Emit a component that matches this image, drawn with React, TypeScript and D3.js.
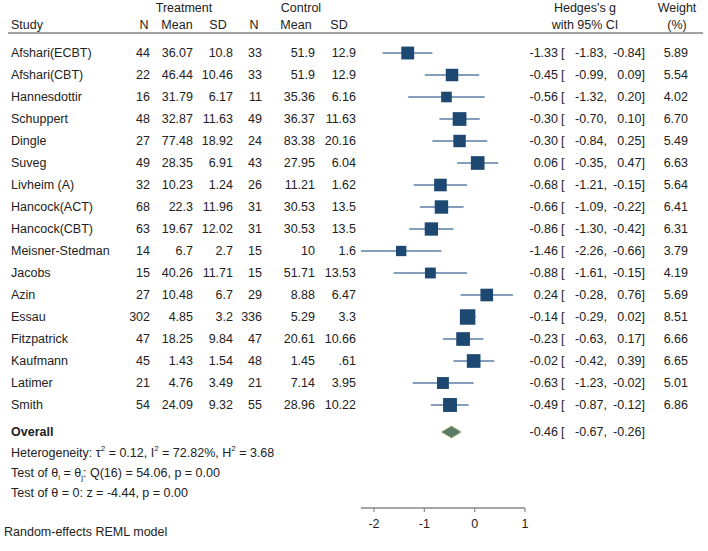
import React from "react";
import * as d3 from "d3";

const studies = ["Afshari(ECBT)", "Afshari(CBT)", "Hannesdottir", "Schuppert", "Dingle", "Suveg", "Livheim (A)", "Hancock(ACT)", "Hancock(CBT)", "Meisner-Stedman", "Jacobs", "Azin", "Essau", "Fitzpatrick", "Kaufmann", "Latimer", "Smith"];
const treatN = ["44", "22", "16", "48", "27", "49", "32", "68", "63", "14", "15", "27", "302", "47", "45", "21", "54"];
const treatMean = ["36.07", "46.44", "31.79", "32.87", "77.48", "28.35", "10.23", "22.3", "19.67", "6.7", "40.26", "10.48", "4.85", "18.25", "1.43", "4.76", "24.09"];
const treatSD = ["10.8", "10.46", "6.17", "11.63", "18.92", "6.91", "1.24", "11.96", "12.02", "2.7", "11.71", "6.7", "3.2", "9.84", "1.54", "3.49", "9.32"];
const ctrlN = ["33", "33", "11", "49", "24", "43", "26", "31", "31", "15", "15", "29", "336", "47", "48", "21", "55"];
const ctrlMean = ["51.9", "51.9", "35.36", "36.37", "83.38", "27.95", "11.21", "30.53", "30.53", "10", "51.71", "8.88", "5.29", "20.61", "1.45", "7.14", "28.96"];
const ctrlSD = ["12.9", "12.9", "6.16", "11.63", "20.16", "6.04", "1.62", "13.5", "13.5", "1.6", "13.53", "6.47", "3.3", "10.66", ".61", "3.95", "10.22"];
const g = [-1.33, -0.45, -0.56, -0.3, -0.3, 0.06, -0.68, -0.66, -0.86, -1.46, -0.88, 0.24, -0.14, -0.23, -0.02, -0.63, -0.49];
const lo = [-1.83, -0.99, -1.32, -0.7, -0.84, -0.35, -1.21, -1.09, -1.3, -2.26, -1.61, -0.28, -0.29, -0.63, -0.42, -1.23, -0.87];
const hi = [-0.84, 0.09, 0.2, 0.1, 0.25, 0.47, -0.15, -0.22, -0.42, -0.66, -0.15, 0.76, 0.02, 0.17, 0.39, -0.02, -0.12];
const weight = [5.89, 5.54, 4.02, 6.7, 5.49, 6.63, 5.64, 6.41, 6.31, 3.79, 4.19, 5.69, 8.51, 6.66, 6.65, 5.01, 6.86];
const overall = { g: -0.46, lo: -0.67, hi: -0.26 };
const ticks = [-2, -1, 0, 1];

const FONT = "'Liberation Sans', Arial, Helvetica, sans-serif";
const FS = 12.5;
const TXT = "#222";

export default function App() {
  const x = d3.scaleLinear().domain([-2, 1]).range([374, 525]);
  const y = d3.scaleLinear().domain([0, 1]).range([53, 75]);
  const yOverall = 432;
  const axisY = 508;
  const fmt = (v: number) => v.toFixed(2);
  const sz = (w: number) => 5.3 * Math.sqrt(w);
  const minLo = d3.min(lo) as number;

  const colRight = [150, 193, 233, 262, 315, 356];
  const headCenter = [144, 177, 218, 254, 296, 339];
  const heads = ["N", "Mean", "SD", "N", "Mean", "SD"];
  const cols = [treatN, treatMean, treatSD, ctrlN, ctrlMean, ctrlSD];

  const T = (props: any) => (
    <text fontFamily={FONT} fontSize={FS} fill={TXT} dominantBaseline="central" {...props} />
  );

  const effText = (gv: number, l: number, h: number, yy: number) => (
    <g>
      <T x={558} y={yy} textAnchor="end">{fmt(gv)}</T>
      <T x={561} y={yy}>[</T>
      <T x={607} y={yy} textAnchor="end">{fmt(l) + ","}</T>
      <T x={645} y={yy} textAnchor="end">{fmt(h) + "]"}</T>
    </g>
  );

  const dy = 6.3;

  return (
    <svg width={708} height={551} style={{ position: "absolute", left: 0, top: 0, background: "#fff" }}>
      <rect x={0} y={0} width={708} height={551} fill="#fff" />
      <T x={184} y={8} textAnchor="middle">Treatment</T>
      <T x={301} y={8} textAnchor="middle">Control</T>
      <T x={11} y={25}>Study</T>
      {heads.map((h, i) => (
        <T key={"h" + i} x={headCenter[i]} y={25} textAnchor="middle">{h}</T>
      ))}
      <T x={585} y={8} textAnchor="middle">Hedges's g</T>
      <T x={585} y={25} textAnchor="middle">with 95% CI</T>
      <T x={677} y={8} textAnchor="middle">Weight</T>
      <T x={677} y={25} textAnchor="middle">(%)</T>
      <line x1={8} x2={703} y1={33} y2={33} stroke="#444" strokeWidth={1.2} />

      {studies.map((s, i) => {
        const yy = y(i);
        const w = sz(weight[i]);
        return (
          <g key={s}>
            <T x={11} y={yy}>{s}</T>
            {cols.map((c, j) => (
              <T key={j} x={colRight[j]} y={yy} textAnchor="end">{c[i]}</T>
            ))}
            <line x1={x(lo[i])} x2={x(hi[i])} y1={yy} y2={yy} stroke="#5b7ea6" strokeWidth={1.5} />
            <rect x={x(g[i]) - w / 2} y={yy - w / 2} width={w} height={w} fill="#1c4872" />
            {effText(g[i], lo[i], hi[i], yy)}
            <T x={688} y={yy} textAnchor="end">{fmt(weight[i])}</T>
          </g>
        );
      })}

      <T x={11} y={yOverall} fontWeight="bold">Overall</T>
      <path
        d={`M${x(overall.lo)},${yOverall} L${x(overall.g)},${yOverall - dy} L${x(overall.hi)},${yOverall} L${x(overall.g)},${yOverall + dy} Z`}
        fill="#5c7c6a"
        stroke="#d8d89c"
        strokeWidth={0.8}
      />
      {effText(overall.g, overall.lo, overall.hi, yOverall)}

      <T x={11} y={453}>
        Heterogeneity: τ<tspan fontSize={8} dy={-5}>2</tspan>
        <tspan dy={5}> = 0.12, I</tspan>
        <tspan fontSize={8} dy={-5}>2</tspan>
        <tspan dy={5}> = 72.82%, H</tspan>
        <tspan fontSize={8} dy={-5}>2</tspan>
        <tspan dy={5}> = 3.68</tspan>
      </T>
      <T x={11} y={473}>
        Test of θ<tspan fontSize={8} dy={4}>i</tspan>
        <tspan dy={-4}> = θ</tspan>
        <tspan fontSize={8} dy={4}>j</tspan>
        <tspan dy={-4}>: Q(16) = 54.06, p = 0.00</tspan>
      </T>
      <T x={11} y={493}>Test of θ = 0: z = -4.44, p = 0.00</T>

      <line x1={x(minLo)} x2={x(1)} y1={axisY} y2={axisY} stroke="#888" strokeWidth={1.4} />
      {ticks.map((t) => (
        <g key={"t" + t}>
          <line x1={x(t)} x2={x(t)} y1={axisY} y2={axisY + 4} stroke="#888" strokeWidth={1.2} />
          <T x={x(t)} y={524} textAnchor="middle">{String(t)}</T>
        </g>
      ))}

      <T x={4} y={532}>Random-effects REML model</T>
    </svg>
  );
}
